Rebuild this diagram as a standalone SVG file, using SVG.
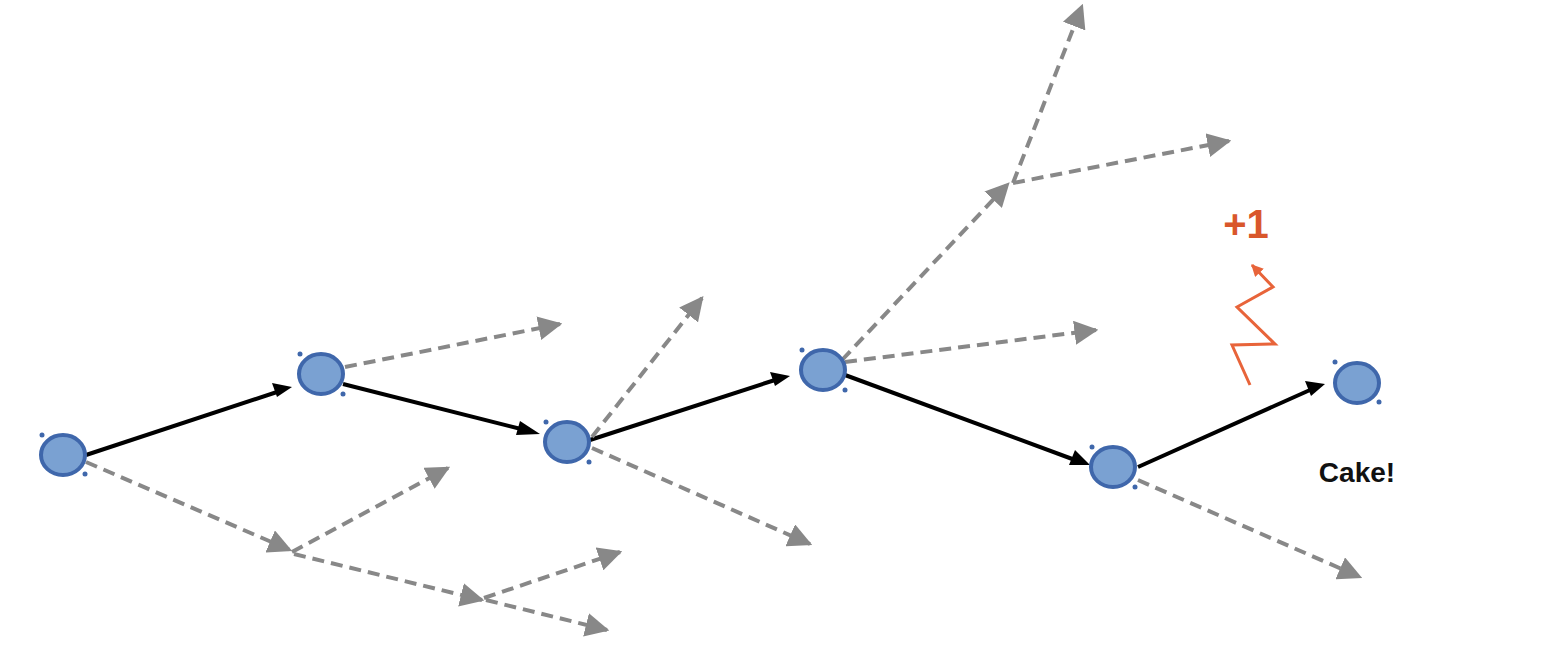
<svg xmlns="http://www.w3.org/2000/svg" width="1560" height="663" viewBox="0 0 1560 663">
<defs>
<marker id="ag" viewBox="0 0 10 10" refX="9" refY="5" markerWidth="6" markerHeight="6" orient="auto"><path d="M0,0 L10,5 L0,10 z" fill="#888"/></marker>
<marker id="ao" viewBox="0 0 10 10" refX="9" refY="5" markerWidth="4" markerHeight="4" orient="auto"><path d="M0,0 L10,5 L0,10 z" fill="#e8643a"/></marker>
</defs>
<style>
.n{fill:#7aa1d2;stroke:#3f67ab;stroke-width:4}
.h{fill:#3f67ab}
.s{stroke:#000;stroke-width:4;fill:none}
.d{stroke:#888;stroke-width:4;stroke-dasharray:12 7;fill:none}
</style>
<rect width="1560" height="663" fill="#fff"/>
<g id="connectors">
<path class="s" d="M86 455 L280 391"/>
<path d="M272 383 L292 387 L277 397 z" fill="#000"/>
<path class="s" d="M343 384 L525 430"/>
<path d="M520 421 L540 434 L516 435 z" fill="#000"/>
<path class="s" d="M590 440 L775 380"/>
<path d="M770 372 L790 376 L775 386 z" fill="#000"/>
<path class="s" d="M845 375 L1075 460"/>
<path d="M1075 450 L1090 465 L1069 465 z" fill="#000"/>
<path class="s" d="M1138 467 L1310 390"/>
<path d="M1305 381 L1325 384 L1311 396 z" fill="#000"/>
<path class="d" d="M345 367 L560 324" marker-end="url(#ag)"/>
<path class="d" d="M86 462 L290 550" marker-end="url(#ag)"/>
<path class="d" d="M292 552 L448 468" marker-end="url(#ag)"/>
<path class="d" d="M294 554 L482 600" marker-end="url(#ag)"/>
<path class="d" d="M484 598 L620 552" marker-end="url(#ag)"/>
<path class="d" d="M486 600 L607 630" marker-end="url(#ag)"/>
<path class="d" d="M592 437 L702 298" marker-end="url(#ag)"/>
<path class="d" d="M592 448 L810 544" marker-end="url(#ag)"/>
<path class="d" d="M842 360 L1008 184" marker-end="url(#ag)"/>
<path class="d" d="M845 362 L1096 330" marker-end="url(#ag)"/>
<path class="d" d="M1013 183 L1082 6" marker-end="url(#ag)"/>
<path class="d" d="M1013 183 L1229 141" marker-end="url(#ag)"/>
<path class="d" d="M1138 480 L1360 577" marker-end="url(#ag)"/>
<path d="M1250 385 L1232 345 L1275 344 L1237 307 L1273 287 L1252 265" fill="none" stroke="#e8643a" stroke-width="3" marker-end="url(#ao)"/>
</g>
<g id="n1"><ellipse class="n" cx="63" cy="455" rx="22" ry="20"/><circle class="h" cx="42" cy="435" r="2.5"/><circle class="h" cx="85" cy="474" r="2.5"/></g>
<g id="n2"><ellipse class="n" cx="321" cy="374" rx="22" ry="20"/><circle class="h" cx="300" cy="354" r="2.5"/><circle class="h" cx="343" cy="394" r="2.5"/></g>
<g id="n3"><ellipse class="n" cx="567" cy="442" rx="22" ry="20"/><circle class="h" cx="546" cy="422" r="2.5"/><circle class="h" cx="589" cy="462" r="2.5"/></g>
<g id="n4"><ellipse class="n" cx="823" cy="370" rx="22" ry="20"/><circle class="h" cx="802" cy="350" r="2.5"/><circle class="h" cx="845" cy="390" r="2.5"/></g>
<g id="n5"><ellipse class="n" cx="1113" cy="467" rx="22" ry="20"/><circle class="h" cx="1092" cy="447" r="2.5"/><circle class="h" cx="1135" cy="487" r="2.5"/></g>
<g id="n6"><ellipse class="n" cx="1357" cy="383" rx="22" ry="20"/><circle class="h" cx="1335" cy="362" r="2.5"/><circle class="h" cx="1379" cy="402" r="2.5"/></g>
<text x="1357" y="482" text-anchor="middle" font-family="Liberation Sans, Arial, sans-serif" font-weight="bold" font-size="28" fill="#111">Cake!</text>
<text x="1246" y="238" text-anchor="middle" font-family="Liberation Sans, Arial, sans-serif" font-weight="bold" font-size="40" fill="#d9572b">+1</text>
</svg>
